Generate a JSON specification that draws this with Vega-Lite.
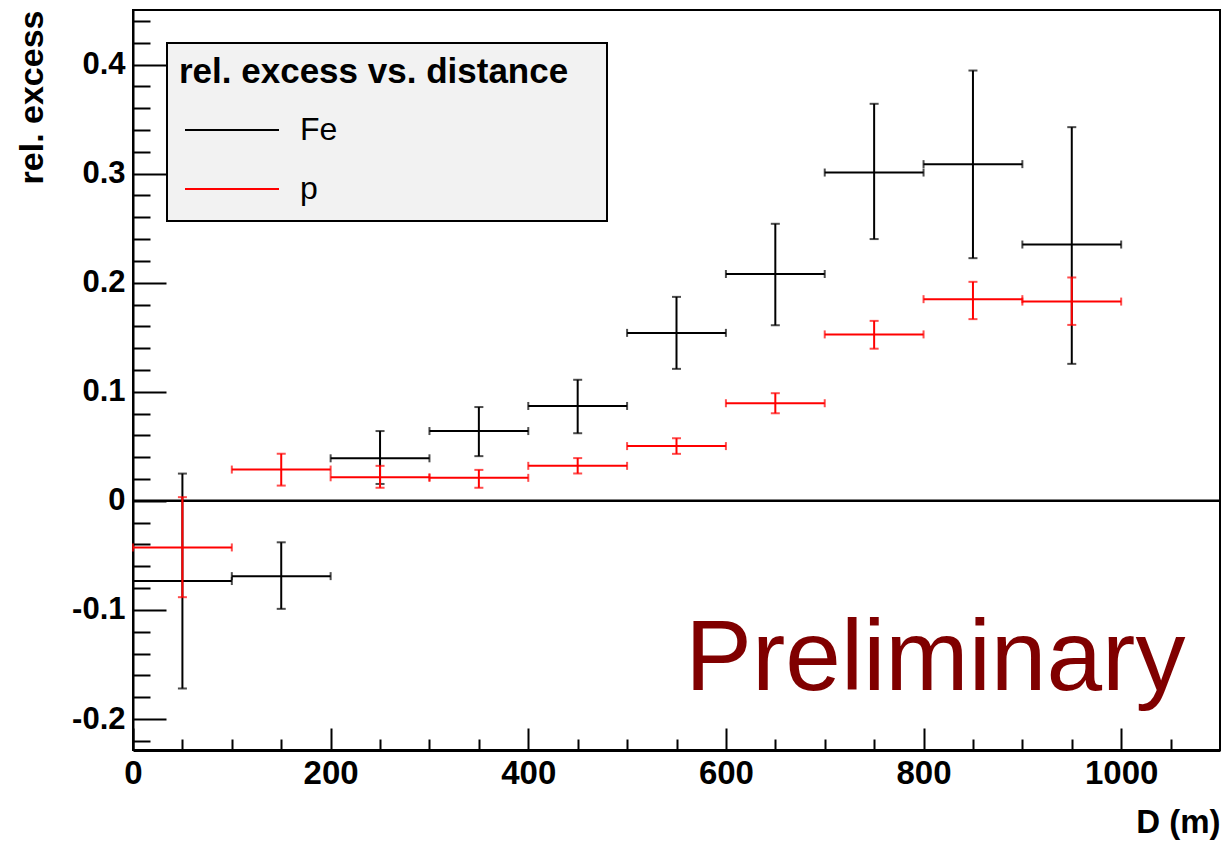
{
  "$schema": "https://vega.github.io/schema/vega-lite/v6.json",
  "width": 1087,
  "height": 740,
  "autosize": {"type": "none"},
  "padding": {"left": 133, "top": 10, "right": 5, "bottom": 92},
  "background": "white",
  "config": {
    "view": {"stroke": "black", "strokeWidth": 2},
    "axis": {"domainColor": "black", "tickColor": "black", "labelColor": "black", "titleColor": "black", "labelFlush": false, "labelOverlap": false, "labelBound": false, "ticks": false, "grid": true, "gridColor": "black", "gridWidth": 2, "gridOpacity": 1}
  },
  "data": {
    "values": [
      {"s": "Fe", "d": 50, "dlo": 0, "dhi": 100, "y": -0.0735, "ylo": -0.172, "yhi": 0.025},
      {"s": "Fe", "d": 150, "dlo": 100, "dhi": 200, "y": -0.069, "ylo": -0.099, "yhi": -0.038},
      {"s": "Fe", "d": 250, "dlo": 200, "dhi": 300, "y": 0.039, "ylo": 0.0155, "yhi": 0.064},
      {"s": "Fe", "d": 350, "dlo": 300, "dhi": 400, "y": 0.064, "ylo": 0.041, "yhi": 0.086},
      {"s": "Fe", "d": 450, "dlo": 400, "dhi": 500, "y": 0.087, "ylo": 0.062, "yhi": 0.111},
      {"s": "Fe", "d": 550, "dlo": 500, "dhi": 600, "y": 0.154, "ylo": 0.121, "yhi": 0.187},
      {"s": "Fe", "d": 650, "dlo": 600, "dhi": 700, "y": 0.208, "ylo": 0.161, "yhi": 0.254},
      {"s": "Fe", "d": 750, "dlo": 700, "dhi": 800, "y": 0.301, "ylo": 0.240, "yhi": 0.364},
      {"s": "Fe", "d": 850, "dlo": 800, "dhi": 900, "y": 0.3087, "ylo": 0.2225, "yhi": 0.3945},
      {"s": "Fe", "d": 950, "dlo": 900, "dhi": 1000, "y": 0.235, "ylo": 0.1256, "yhi": 0.3426},
      {"s": "p", "d": 50, "dlo": 0, "dhi": 100, "y": -0.0427, "ylo": -0.0883, "yhi": 0.0034},
      {"s": "p", "d": 150, "dlo": 100, "dhi": 200, "y": 0.0287, "ylo": 0.014, "yhi": 0.0432},
      {"s": "p", "d": 250, "dlo": 200, "dhi": 300, "y": 0.0216, "ylo": 0.012, "yhi": 0.0321},
      {"s": "p", "d": 350, "dlo": 300, "dhi": 400, "y": 0.0211, "ylo": 0.012, "yhi": 0.0284},
      {"s": "p", "d": 450, "dlo": 400, "dhi": 500, "y": 0.0321, "ylo": 0.0251, "yhi": 0.0392},
      {"s": "p", "d": 550, "dlo": 500, "dhi": 600, "y": 0.0502, "ylo": 0.0431, "yhi": 0.0574},
      {"s": "p", "d": 650, "dlo": 600, "dhi": 700, "y": 0.0895, "ylo": 0.0803, "yhi": 0.0987},
      {"s": "p", "d": 750, "dlo": 700, "dhi": 800, "y": 0.1526, "ylo": 0.1395, "yhi": 0.165},
      {"s": "p", "d": 850, "dlo": 800, "dhi": 900, "y": 0.1849, "ylo": 0.1666, "yhi": 0.2008},
      {"s": "p", "d": 950, "dlo": 900, "dhi": 1000, "y": 0.1827, "ylo": 0.1613, "yhi": 0.2048}
    ]
  },
  "encoding": {
    "x": {
      "type": "quantitative",
      "scale": {"domain": [0, 1100], "nice": false, "zero": false},
      "axis": {
        "title": "D (m)", "titleFont": "Liberation Sans", "titleFontSize": 33, "titleFontWeight": "bold",
        "titleAnchor": "end", "titleAlign": "right", "titleBaseline": "alphabetic", "titleX": 1087, "titleY": 82,
        "values": [0, 50, 100, 150, 200, 250, 300, 350, 400, 450, 500, 550, 600, 650, 700, 750, 800, 850, 900, 950, 1000, 1050],
        "labelExpr": "datum.value % 200 == 0 ? '' + datum.value : ''",
        "labelFont": "Liberation Sans", "labelFontSize": 33, "labelFontWeight": "bold", "labelPadding": 7,
        "domainWidth": 3,
        "gridDash": {"condition": {"test": "datum.value % 200 == 0", "value": [0, 718, 22, 3000]}, "value": [0, 729, 11, 3000]}
      }
    },
    "y": {
      "type": "quantitative",
      "scale": {"domain": [-0.2284, 0.45], "nice": false, "zero": false},
      "axis": {
        "title": "rel. excess", "titleFont": "Liberation Sans", "titleFontSize": 34, "titleFontWeight": "bold",
        "titleAngle": -90, "titleAlign": "right", "titleBaseline": "alphabetic", "titleX": -91, "titleY": 0,
        "values": [-0.22, -0.2, -0.18, -0.16, -0.14, -0.12, -0.1, -0.08, -0.06, -0.04, -0.02, 0, 0.02, 0.04, 0.06, 0.08, 0.1, 0.12, 0.14, 0.16, 0.18, 0.2, 0.22, 0.24, 0.26, 0.28, 0.3, 0.32, 0.34, 0.36, 0.38, 0.4, 0.42, 0.44],
        "labelExpr": "abs(datum.value * 10 - round(datum.value * 10)) < 0.001 ? '' + round(datum.value * 10) / 10 : ''",
        "labelFont": "Liberation Sans", "labelFontSize": 31, "labelFontWeight": "bold", "labelPadding": 8,
        "domainWidth": 2,
        "gridDash": {"condition": {"test": "abs(datum.value * 10 - round(datum.value * 10)) < 0.001", "value": [33, 3000]}, "value": [17, 3000]}
      }
    }
  },
  "layer": [
    {
      "data": {"values": [{"zero": 0}]},
      "mark": {"type": "rule", "color": "black", "strokeWidth": 2.5},
      "encoding": {
        "y": {"field": "zero", "type": "quantitative"}
      }
    },
    {
      "encoding": {
        "color": {
          "field": "s", "type": "nominal",
          "scale": {"domain": ["Fe", "p"], "range": ["#000000", "#ff0000"]},
          "legend": {
            "orient": "none", "legendX": 34, "legendY": 33,
            "title": "rel. excess vs. distance\u2800",
            "titleLimit": 2000,
            "fillColor": "#f2f2f2", "strokeColor": "#000000",
            "padding": 12,
            "titleFont": "Liberation Sans", "titleFontSize": 35, "titleFontWeight": "bold", "titleColor": "#000000", "titlePadding": 20,
            "labelFont": "Liberation Sans", "labelFontSize": 32, "labelColor": "#000000", "labelOffset": 20,
            "symbolType": "stroke", "symbolSize": 8836, "symbolStrokeWidth": 2, "symbolOffset": 5,
            "clipHeight": 40, "rowPadding": 19,
            "encode": {"legend": {"update": {"strokeWidth": {"value": 2}}}}
          }
        }
      },
      "layer": [
        {
          "transform": [{"filter": "datum.s == 'Fe'"}],
          "layer": [
            {"mark": {"type": "rule", "strokeWidth": 2}, "encoding": {"x": {"field": "dlo", "type": "quantitative"}, "x2": {"field": "dhi"}, "y": {"field": "y", "type": "quantitative"}}},
            {"mark": {"type": "rule", "strokeWidth": 2}, "encoding": {"x": {"field": "d", "type": "quantitative"}, "y": {"field": "ylo", "type": "quantitative"}, "y2": {"field": "yhi"}}},
            {"mark": {"type": "tick", "orient": "vertical", "size": 8, "thickness": 2}, "encoding": {"x": {"field": "dlo", "type": "quantitative"}, "y": {"field": "y", "type": "quantitative"}}},
            {"mark": {"type": "tick", "orient": "vertical", "size": 8, "thickness": 2}, "encoding": {"x": {"field": "dhi", "type": "quantitative"}, "y": {"field": "y", "type": "quantitative"}}},
            {"mark": {"type": "tick", "orient": "horizontal", "size": 9, "thickness": 2}, "encoding": {"x": {"field": "d", "type": "quantitative"}, "y": {"field": "ylo", "type": "quantitative"}}},
            {"mark": {"type": "tick", "orient": "horizontal", "size": 9, "thickness": 2}, "encoding": {"x": {"field": "d", "type": "quantitative"}, "y": {"field": "yhi", "type": "quantitative"}}}
          ]
        },
        {
          "transform": [{"filter": "datum.s == 'p'"}],
          "layer": [
            {"mark": {"type": "rule", "strokeWidth": 2}, "encoding": {"x": {"field": "dlo", "type": "quantitative"}, "x2": {"field": "dhi"}, "y": {"field": "y", "type": "quantitative"}}},
            {"mark": {"type": "rule", "strokeWidth": 2}, "encoding": {"x": {"field": "d", "type": "quantitative"}, "y": {"field": "ylo", "type": "quantitative"}, "y2": {"field": "yhi"}}},
            {"mark": {"type": "tick", "orient": "vertical", "size": 8, "thickness": 2}, "encoding": {"x": {"field": "dlo", "type": "quantitative"}, "y": {"field": "y", "type": "quantitative"}}},
            {"mark": {"type": "tick", "orient": "vertical", "size": 8, "thickness": 2}, "encoding": {"x": {"field": "dhi", "type": "quantitative"}, "y": {"field": "y", "type": "quantitative"}}},
            {"mark": {"type": "tick", "orient": "horizontal", "size": 9, "thickness": 2}, "encoding": {"x": {"field": "d", "type": "quantitative"}, "y": {"field": "ylo", "type": "quantitative"}}},
            {"mark": {"type": "tick", "orient": "horizontal", "size": 9, "thickness": 2}, "encoding": {"x": {"field": "d", "type": "quantitative"}, "y": {"field": "yhi", "type": "quantitative"}}}
          ]
        }
      ]
    },
    {
      "data": {"values": [{"px": 1065, "py": -0.1733, "label": "Preliminary"}]},
      "mark": {"type": "text", "font": "Liberation Sans", "fontSize": 100, "align": "right", "baseline": "alphabetic", "color": "#800000"},
      "encoding": {
        "x": {"field": "px", "type": "quantitative"},
        "y": {"field": "py", "type": "quantitative"},
        "text": {"field": "label"}
      }
    }
  ]
}
